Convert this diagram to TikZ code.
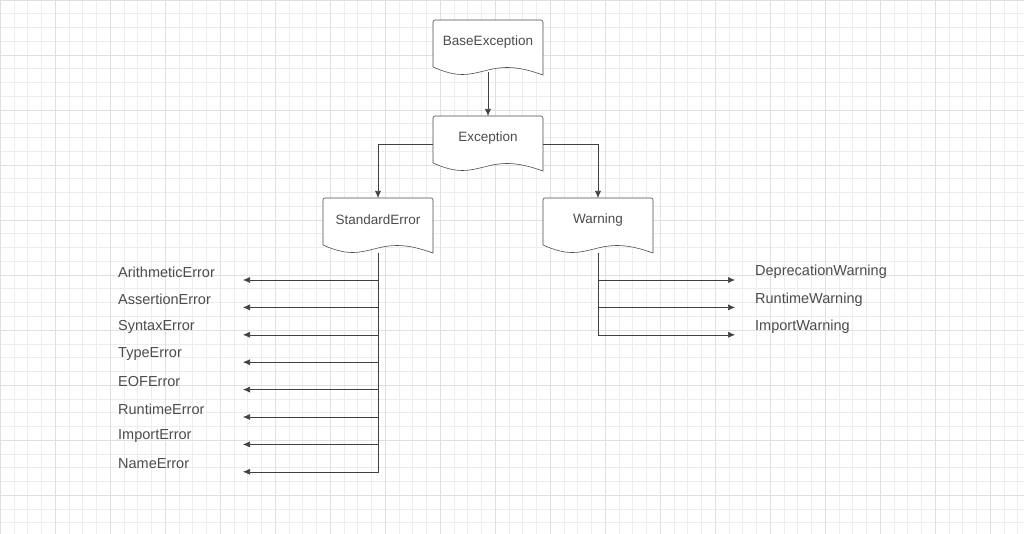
\documentclass[tikz,border=0pt]{standalone}
\usepackage{fontspec}
\setmainfont{Liberation Sans}
\usetikzlibrary{arrows.meta}
\begin{document}
\begin{tikzpicture}[x=1pt,y=-1pt,
 doc/.style={draw=black!70,line width=0.6pt,fill=white},
 arr/.style={draw=black!75,line width=0.6pt,-{Latex[length=7pt,width=6pt]}},
 lbl/.style={font=\fontsize{14.5}{16}\selectfont,text=black!70,inner sep=0pt},
 ]
\useasboundingbox (0,0) rectangle (1024,534);
\fill[white] (0,0) rectangle (1024,534);
\foreach \k in {0,...,75}{
  \draw[black!7,line width=0.5pt] (\k*13.75,0) -- (\k*13.75,534);
}
\foreach \k in {0,...,39}{
  \draw[black!7,line width=0.5pt] (0,\k*13.75) -- (1024,\k*13.75);
}
\foreach \k in {0,...,18}{
  \draw[black!12,line width=0.6pt] (\k*55,0) -- (\k*55,534);
}
\foreach \k in {0,...,9}{
  \draw[black!12,line width=0.6pt] (0,\k*55) -- (1024,\k*55);
}
\newcommand{\docshape}[4]{% name, x, y, text
 \draw[doc] (#2,#3+47) [rounded corners=2] -- (#2,#3) -- (#2+110,#3) [sharp corners] -- (#2+110,#3+55)
   .. controls (#2+90,#3+48) and (#2+75,#3+45) .. (#2+55,#3+50)
   .. controls (#2+35,#3+55) and (#2+25,#3+58) .. cycle;
 \node[lbl,font=\fontsize{13.5}{15}\selectfont] (#1) at (#2+55,#3+22) {#4};
 \coordinate (#1-n) at (#2+55,#3);
 \coordinate (#1-s) at (#2+55,#3+52);
}
\docshape{be}{433}{20}{BaseException}
\docshape{ex}{433}{116}{Exception}
\docshape{se}{323}{198}{StandardError}
\docshape{wa}{543}{198}{Warning}
\coordinate (exl) at (433,144);
\coordinate (exr) at (543,144);
\draw[arr] (be-s) -- (ex-n);
\draw[arr] (exl) -| (se-n);
\draw[arr] (exr) -| (wa-n);
\coordinate (set) at (378,253);
\coordinate (wat) at (598,253);
\foreach \t [count=\i] in {ArithmeticError,AssertionError,SyntaxError,TypeError,EOFError,RuntimeError,ImportError,NameError}{
  \pgfmathsetmacro\yy{280+27.4*(\i-1)}
  \coordinate (sa\i) at (243,\yy);
  \draw[arr] (set) |- (sa\i);
  \node[lbl,anchor=west] (sl\i) at (118,\yy-8) {\t};
}
\foreach \t [count=\i] in {DeprecationWarning,RuntimeWarning,ImportWarning}{
  \pgfmathsetmacro\yy{280+27.4*(\i-1)}
  \coordinate (wa\i) at (735,\yy);
  \draw[arr] (wat) |- (wa\i);
  \node[lbl,anchor=west] (wl\i) at (755,\yy-8) {\t};
}
\end{tikzpicture}
\end{document}
